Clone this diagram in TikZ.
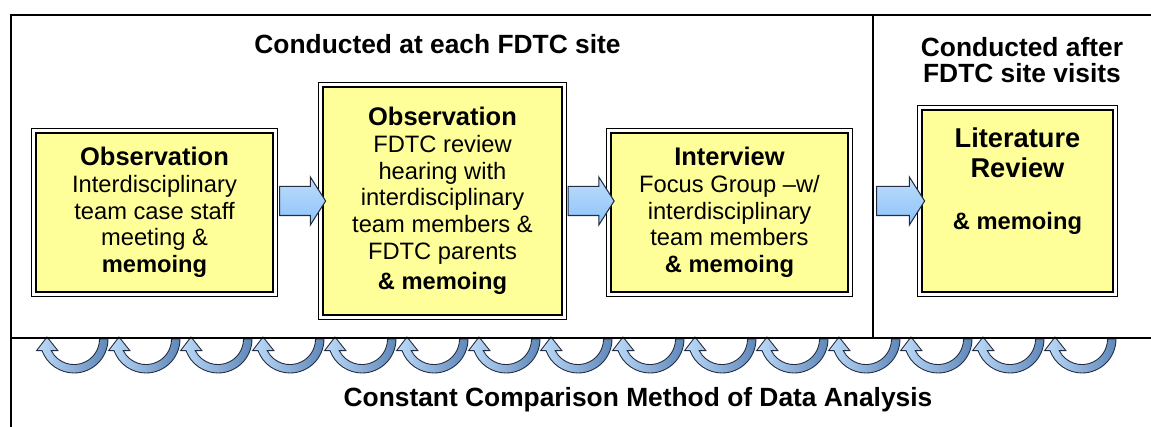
\documentclass[tikz,border=0pt]{standalone}
\usepackage{fontspec}
\setmainfont{Liberation Sans}
\usetikzlibrary{shapes.arrows,calc}

\definecolor{boxyellow}{RGB}{255,255,153}
\definecolor{arrowblue}{RGB}{140,195,250}
\definecolor{arrowlight}{RGB}{190,220,250}
\definecolor{arrowdark}{RGB}{95,135,185}
\definecolor{arrowline}{RGB}{35,45,65}

\newcommand{\boxtitle}[1]{{\fontsize{14.5}{15.2}\selectfont\bfseries #1}}

\tikzset{
  stagebox/.style={draw,double,double distance=1.6pt,line width=0.8pt,fill=boxyellow,
    align=center,inner sep=0pt,font=\fontsize{13.5}{15.2}\selectfont},
  flowarrow/.style={single arrow,draw=arrowline,line width=0.6pt,
    top color=arrowlight,bottom color=arrowblue,inner xsep=0pt,inner ysep=0.28cm,
    single arrow head extend=0.19cm,single arrow tip angle=115},
  cyclearrow/.style={draw=arrowline,line width=0.5pt,left color=arrowlight,right color=arrowdark},
  headtitle/.style={font=\fontsize{15}{15}\selectfont\bfseries,align=center,inner sep=0pt},
  frame/.style={line width=1.3pt}
}

\begin{document}
\begin{tikzpicture}
            \useasboundingbox (0,0) rectangle (23.02,8.54);

            \foreach \i in {0,...,14}{
              \pgfmathsetmacro{\c}{1.48+1.44*\i}
              \draw[cyclearrow] (\c+0.68,1.76) arc[start angle=0,end angle=-160,x radius=0.68,y radius=0.68]
               -- ++(-0.11,0) -- (\c-0.54,1.80) -- (\c-0.32,1.527) -- (\c-0.454,1.527)
               arc[start angle=-153,end angle=0,x radius=0.51,y radius=0.51] -- cycle;
            }

            \draw[frame] (0.22,0) -- (0.22,8.24) -- (23.02,8.24);
            \draw[frame] (0.22,1.78) -- (23.02,1.78);
            \draw[frame] (17.46,8.24) -- (17.46,1.78);
            \coordinate (divider) at (17.46,4.52);

            \node[headtitle] (sitetitle) at (8.75,7.66) {Conducted at each FDTC site};
            \node[headtitle] (aftertitle) at (20.44,7.34) {Conducted after\\FDTC site visits};

            \node[stagebox,minimum width=4.83cm,minimum height=3.27cm] (casestaff) at (3.09,4.29)
             {\boxtitle{Observation}\\Interdisciplinary\\team case staff\\meeting \&\\\textbf{memoing}};
            \node[stagebox,minimum width=4.87cm,minimum height=4.65cm] (hearing) at (8.85,4.52)
             {\boxtitle{Observation}\\FDTC review\\hearing with\\interdisciplinary\\team members \&\\FDTC parents\\[2pt]\textbf{\& memoing}};
            \node[stagebox,minimum width=4.83cm,minimum height=3.27cm] (focus) at (14.59,4.29)
             {\boxtitle{Interview}\\Focus Group --w/\\interdisciplinary\\team members\\\textbf{\& memoing}};
            \node[stagebox,minimum width=3.91cm,minimum height=3.73cm] (lit) at (20.35,4.52) {};
            \node[font=\fontsize{15.5}{17}\selectfont\bfseries,align=center,inner sep=0pt,anchor=north] (littext)
             at ([yshift=-0.4cm]lit.north) {Literature\\Review\\[13pt]{\fontsize{13.5}{15}\selectfont \& memoing}};

            \node[flowarrow,minimum height=0.92cm] (arrowa) at ($(casestaff.east |- hearing.west)!0.5!(hearing.west)$) {};
            \node[flowarrow,minimum height=0.92cm] (arrowb) at ($(hearing.east)!0.5!(focus.west |- hearing.east)$) {};
            \node[flowarrow,minimum height=0.96cm] (arrowc) at ($(divider)!0.5!(lit.west)$) {};

            \node[headtitle] (cmptitle) at (12.76,0.54) {Constant Comparison Method of Data Analysis};
           \end{tikzpicture}
\end{document}
